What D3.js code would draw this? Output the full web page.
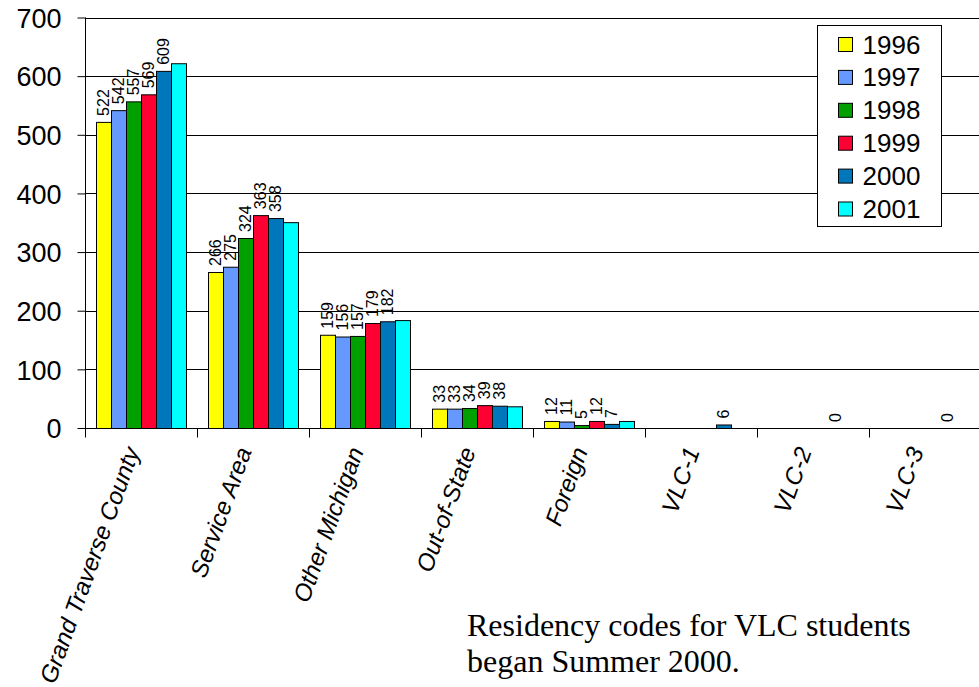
<!DOCTYPE html>
<html><head><meta charset="utf-8">
<script src="https://cdn.jsdelivr.net/npm/d3@7"></script>
<style>body{margin:0;background:#fff;}svg{display:block;}</style>
</head><body>
<script>
const categories = ["Grand Traverse County","Service Area","Other Michigan","Out-of-State","Foreign","VLC-1","VLC-2","VLC-3"];
const years = ["1996","1997","1998","1999","2000","2001"];
const s1996 = [522,266,159,33,12,null,null,null];
const s1997 = [542,275,156,33,11,null,null,null];
const s1998 = [557,324,157,34,5,null,null,null];
const s1999 = [569,363,179,39,12,null,null,null];
const s2000 = [609,358,182,38,7,6,0,0];
const s2001 = [622,351,184,37,12,null,null,null];
const seriesValues = [s1996,s1997,s1998,s1999,s2000,s2001];
const showLabels = [true,true,true,true,true,false];
const colors = ["#FFFF00","#6699FF","#00A000","#FF0033","#0077BB","#00FFFF"];
const yTicks = [0,100,200,300,400,500,600,700];
const note = ["Residency codes for VLC students","began Summer 2000."];

const W=979,H=687;
const svg=d3.select("body").append("svg").attr("width",W).attr("height",H);
const x0=d3.scaleBand().domain(categories).range([85,981]).paddingInner(0).paddingOuter(0);
const inner=x0.bandwidth();
const x1=d3.scaleBand().domain(years).range([11,inner-11]);
const y=d3.scaleLinear().domain([0,700]).range([428,17.5]);
const sans="Liberation Sans, Arial, sans-serif";

// gridlines
svg.append("g").selectAll("line").data(yTicks.slice(1)).join("line")
 .attr("x1",85).attr("x2",981).attr("y1",d=>Math.round(y(d))+0.5).attr("y2",d=>Math.round(y(d))+0.5)
 .attr("stroke","#000").attr("stroke-width",1);

// y axis
const ya=svg.append("g").attr("transform","translate(85.5,0)")
 .call(d3.axisLeft(y).tickValues(yTicks).tickSize(8).tickPadding(16).tickFormat(d3.format("d")));
ya.select(".domain").attr("d",`M0,${y(700)}V${y(0)+9}`);
ya.selectAll("text").attr("font-family",sans).attr("font-size",27).attr("fill","#000").attr("dy","0.36em");
ya.selectAll("line").attr("stroke","#000");

// x axis
const xa=svg.append("g").attr("transform",`translate(0,${Math.round(y(0))+0.5})`);
xa.append("line").attr("x1",85).attr("x2",981).attr("stroke","#000");
xa.selectAll("line.t").data(d3.range(categories.length+1)).join("line").attr("class","t")
 .attr("x1",i=>85+i*inner+0.5).attr("x2",i=>85+i*inner+0.5).attr("y1",0).attr("y2",9).attr("stroke","#000");

// bars
years.forEach((yr,si)=>{
  const g=svg.append("g");
  const data=categories.map((c,i)=>({c,v:seriesValues[si][i]})).filter(d=>d.v!==null);
  g.selectAll("rect").data(data).join("rect")
   .attr("x",d=>x0(d.c)+x1(yr)+0.5).attr("width",x1.bandwidth())
   .attr("y",d=>y(d.v)+0.5).attr("height",d=>Math.max(0,y(0)-y(d.v)))
   .attr("fill",colors[si]).attr("stroke","#000").attr("stroke-width",d=>d.v===0?0:1);
  if(showLabels[si]){
    g.selectAll("text").data(data).join("text")
     .attr("transform",d=>`translate(${x0(d.c)+x1(yr)+x1.bandwidth()/2+5.5},${y(d.v)-6}) rotate(-90)`)
     .attr("font-family",sans).attr("font-size",16).attr("fill","#000")
     .text(d=>d.v);
  }
});

// category labels
svg.append("g").selectAll("text").data(categories).join("text")
 .attr("transform",d=>`translate(${x0(d)+inner/2-1},${451}) rotate(-70)`)
 .attr("text-anchor","end").attr("font-family",sans).attr("font-style","italic")
 .attr("font-size",24).attr("fill","#000").text(d=>d);

// legend
const lg=svg.append("g").attr("transform","translate(817.5,25.5)");
lg.append("rect").attr("width",124).attr("height",201).attr("fill","#fff").attr("stroke","#000");
years.forEach((yr,i)=>{
  const cy=19+i*32.9;
  lg.append("rect").attr("x",21).attr("y",cy-7).attr("width",14).attr("height",14).attr("fill",colors[i]).attr("stroke","#000");
  lg.append("text").attr("x",45).attr("y",cy+9).attr("font-family",sans).attr("font-size",26).attr("fill","#000").text(yr);
});

// note
svg.append("g").selectAll("text").data(note).join("text")
 .attr("x",467).attr("y",(d,i)=>636+i*36).attr("font-family","Liberation Serif, Times New Roman, serif").attr("font-size",32).attr("fill","#000").text(d=>d);
</script>
</body></html>
